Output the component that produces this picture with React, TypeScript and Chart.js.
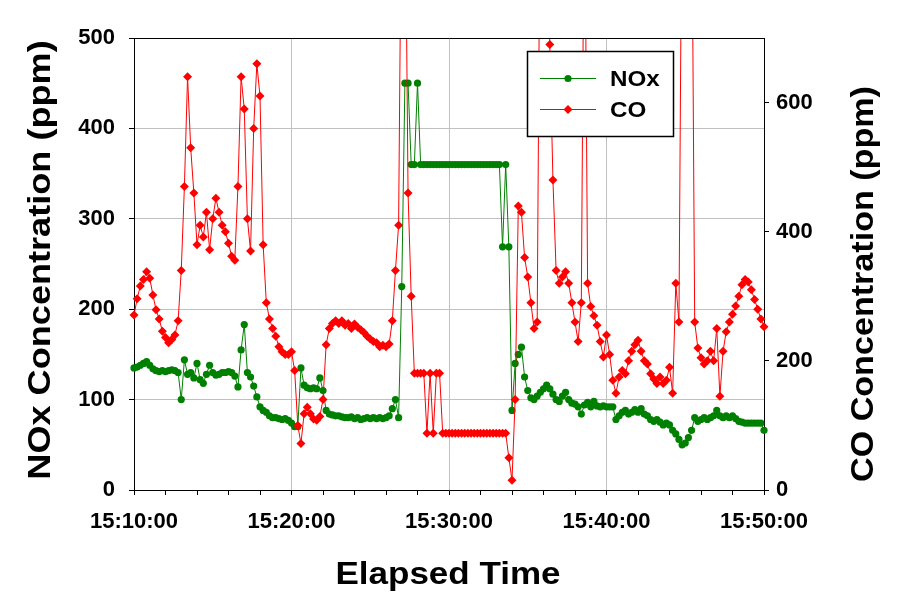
import { useEffect, useRef } from "react";
import { Chart, registerables } from "chart.js";

Chart.register(...registerables);

// ---- data -------------------------------------------------------------
// Elapsed seconds from 15:10:00; one reading every 12 s (5 per minute), 15:10:00 .. 15:50:00
const SAMPLE_STEP_S = 12;
const X_MIN_S = 0;
const X_MAX_S = 2400;
const START_CLOCK_S = 15 * 3600 + 10 * 60;

// NOx (ppm, left axis) - one row per minute
const NOX_PPM = [
  135, 136, 138, 140, 142,
  138, 134, 132, 131, 132,
  131, 132, 133, 132, 130,
  100, 144, 128, 130, 124,
  140, 122, 118, 128, 138,
  130, 127, 128, 130, 130,
  131, 130, 126, 114, 155,
  183, 130, 125, 115, 103,
  92, 88, 86, 82, 80,
  80, 79, 78, 79, 77,
  74, 70, 70, 135, 116,
  113, 112, 113, 112, 124,
  110, 88, 84, 83, 82,
  82, 81, 80, 80, 81,
  79, 80, 78, 79, 80,
  79, 80, 79, 80, 79,
  80, 82, 90, 100, 80,
  225, 450, 450, 360, 360,
  450, 360, 360, 360, 360,
  360, 360, 360, 360, 360,
  360, 360, 360, 360, 360,
  360, 360, 360, 360, 360,
  360, 360, 360, 360, 360,
  360, 360, 269, 360, 269,
  88, 140, 150, 158, 125,
  110, 102, 100, 104, 108,
  112, 116, 112, 106, 100,
  98, 104, 108, 100, 96,
  95, 92, 84, 94, 97,
  92, 98, 93, 92, 93,
  92, 92, 92, 78, 82,
  86, 88, 84, 86, 89,
  86, 90, 84, 82, 78,
  76, 78, 75, 72, 74,
  72, 66, 62, 56, 50,
  52, 58, 66, 80, 76,
  78, 80, 78, 80, 82,
  88, 82, 80, 82, 80,
  82, 79, 76, 75, 74,
  74, 74, 74, 74, 74,
  66,
];

// CO (ppm, right axis) - one row per minute; readings above 700 run off the top of the plot
const CO_PPM = [
  271, 296, 316, 326, 338,
  328, 302, 279, 265, 246,
  236, 228, 233, 240, 262,
  340, 470, 640, 530, 460,
  380, 410, 392, 430, 372,
  420, 452, 430, 410, 400,
  382, 362, 356, 470, 640,
  590, 420, 370, 560, 660,
  610, 380, 290, 265, 250,
  238, 222, 214, 210, 210,
  214, 185, 100, 72, 118,
  128, 118, 110, 108, 114,
  140, 225, 250, 258, 262,
  258, 262, 255, 258, 250,
  257, 252, 248, 244, 238,
  234, 230, 228, 222, 224,
  222, 226, 262, 340, 410,
  1000, 1000, 460, 300, 181,
  181, 181, 181, 88, 181,
  88, 181, 181, 88, 88,
  88, 88, 88, 88, 88,
  88, 88, 88, 88, 88,
  88, 88, 88, 88, 88,
  88, 88, 88, 88, 50,
  15, 140, 440, 430, 360,
  330, 290, 250, 260, 1000,
  1000, 1000, 690, 480, 340,
  320, 330, 338, 320, 290,
  260, 230, 290, 1000, 320,
  284, 270, 255, 230, 206,
  240, 210, 170, 150, 175,
  185, 180, 200, 215, 225,
  232, 215, 200, 195, 180,
  172, 165, 175, 165, 170,
  190, 150, 320, 260, 1000,
  1000, 1000, 1000, 260, 220,
  205, 195, 200, 215, 200,
  250, 145, 215, 245, 260,
  272, 285, 300, 318, 326,
  322, 310, 295, 280, 265,
  253,
];

const NOX_AXIS = { min: 0, max: 500, step: 100 };
const CO_AXIS = { min: 0, max: 700, step: 200 };
const CO_TICKS = [0, 200, 400, 600];
const X_MINOR_STEP_S = 120;
const X_MAJOR_STEP_S = 600;

const SERIES_NAMES = ["NOx", "CO"];
const AXIS_TITLES = {
  x: "Elapsed Time",
  left: "NOx Concentration (ppm)",
  right: "CO Concentration (ppm)",
};

// ---- style ------------------------------------------------------------
const FONT = '"Liberation Sans", Arial, sans-serif';
const GREEN = "#008000";
const RED = "#FF0000";
const GRID = "#C0C0C0";
const NONE = "rgba(0,0,0,0)";

const pad2 = (n: number) => String(n).padStart(2, "0");
const clock = (s: number) => {
  const t = START_CLOCK_S + s;
  return `${Math.floor(t / 3600)}:${pad2(Math.floor((t % 3600) / 60))}:${pad2(t % 60)}`;
};

function stretchedText(
  ctx: CanvasRenderingContext2D,
  text: string,
  x: number,
  y: number,
  rot: number,
  sx: number,
  size: number,
  align: CanvasTextAlign,
  baseline: CanvasTextBaseline
) {
  ctx.save();
  ctx.translate(x, y);
  ctx.rotate(rot);
  ctx.scale(sx, 1);
  ctx.font = `bold ${size}px ${FONT}`;
  ctx.fillStyle = "#000";
  ctx.textAlign = align;
  ctx.textBaseline = baseline;
  ctx.fillText(text, 0, 0);
  ctx.restore();
}

const decorPlugin = {
  id: "decor",
  afterDatasetsDraw(chart: any) {
    const { ctx, chartArea: a } = chart;
    ctx.save();
    // top frame line of the plot area
    ctx.strokeStyle = "#000";
    ctx.lineWidth = 1;
    ctx.beginPath();
    ctx.moveTo(a.left, Math.round(a.top) + 0.5);
    ctx.lineTo(a.right + 1, Math.round(a.top) + 0.5);
    ctx.stroke();

    // legend box
    const lx = 527.5, ly = 51.5, lw = 146, lh = 85;
    ctx.fillStyle = "#fff";
    ctx.fillRect(lx, ly, lw, lh);
    ctx.strokeStyle = "#000";
    ctx.lineWidth = 1.5;
    ctx.strokeRect(lx, ly, lw, lh);

    const rows = [
      { name: SERIES_NAMES[0], color: GREEN, y: 78.5, shape: "circle" },
      { name: SERIES_NAMES[1], color: RED, y: 109.5, shape: "diamond" },
    ];
    for (const r of rows) {
      ctx.strokeStyle = r.color;
      ctx.lineWidth = 1;
      ctx.beginPath();
      ctx.moveTo(540, r.y);
      ctx.lineTo(596, r.y);
      ctx.stroke();
      ctx.fillStyle = r.color;
      ctx.beginPath();
      if (r.shape === "circle") {
        ctx.arc(568, r.y, 3.6, 0, Math.PI * 2);
      } else {
        ctx.moveTo(568, r.y - 4.5);
        ctx.lineTo(572.5, r.y);
        ctx.lineTo(568, r.y + 4.5);
        ctx.lineTo(563.5, r.y);
        ctx.closePath();
      }
      ctx.fill();
      stretchedText(ctx, r.name, 610, r.y + 1, 0, 1.1, 22, "left", "middle");
    }
    ctx.restore();

    // axis titles
    stretchedText(ctx, AXIS_TITLES.left, 50, 260, -Math.PI / 2, 1.165, 31, "center", "alphabetic");
    stretchedText(ctx, AXIS_TITLES.right, 873, 284, -Math.PI / 2, 1.1, 31, "center", "alphabetic");
    stretchedText(ctx, AXIS_TITLES.x, 448, 584, 0, 1.13, 31, "center", "alphabetic");
  },
};

export default function App() {
  const ref = useRef<HTMLCanvasElement>(null);

  useEffect(() => {
    const canvas = ref.current;
    if (!canvas) return;
    const tickFont = { family: FONT, size: 22, weight: "bold" as const };

    const chart = new Chart(canvas, {
      type: "line",
      data: {
        datasets: [
          {
            label: SERIES_NAMES[0],
            data: NOX_PPM.map((y, i) => ({ x: i * SAMPLE_STEP_S, y })),
            yAxisID: "yNox",
            borderColor: GREEN,
            backgroundColor: GREEN,
            borderWidth: 1,
            pointStyle: "circle",
            pointRadius: 3.6,
            pointBorderWidth: 0,
            pointBackgroundColor: GREEN,
            tension: 0,
            order: 2,
            clip: { left: 6, right: 6, top: 0, bottom: 6 },
          },
          {
            label: SERIES_NAMES[1],
            data: CO_PPM.map((y, i) => ({ x: i * SAMPLE_STEP_S, y })),
            yAxisID: "yCo",
            borderColor: RED,
            backgroundColor: RED,
            borderWidth: 1,
            pointStyle: "rectRot",
            pointRadius: 4.5,
            pointBorderWidth: 0,
            pointBackgroundColor: RED,
            tension: 0,
            order: 1,
            clip: { left: 6, right: 6, top: 0, bottom: 6 },
          },
        ],
      },
      options: {
        animation: false,
        responsive: false,
        maintainAspectRatio: false,
        events: [],
        layout: { padding: { top: 38, left: 0, right: 0, bottom: 0 } },
        plugins: {
          legend: { display: false },
          tooltip: { enabled: false },
          title: { display: false },
        },
        scales: {
          x: {
            type: "linear",
            position: "bottom",
            min: X_MIN_S,
            max: X_MAX_S,
            afterFit: (s: any) => {
              s.height = 118;
            },
            ticks: {
              stepSize: X_MINOR_STEP_S,
              autoSkip: false,
              maxRotation: 0,
              minRotation: 0,
              padding: 14,
              color: "#000",
              font: tickFont,
              callback: (v: any) => (Number(v) % X_MAJOR_STEP_S === 0 ? clock(Number(v)) : ""),
            },
            grid: {
              color: (c: any) => {
                const v = c.tick?.value;
                return v % X_MAJOR_STEP_S === 0 && v > X_MIN_S && v < X_MAX_S ? GRID : NONE;
              },
              tickColor: "#000",
              tickLength: 5,
              lineWidth: 1,
            },
            border: { color: "#000", width: 1 },
          },
          yNox: {
            type: "linear",
            position: "left",
            min: NOX_AXIS.min,
            max: NOX_AXIS.max,
            afterFit: (s: any) => {
              s.width = 134;
            },
            ticks: { stepSize: NOX_AXIS.step, padding: 14, color: "#000", font: tickFont },
            grid: {
              color: (c: any) => {
                const v = c.tick?.value;
                return v > NOX_AXIS.min && v < NOX_AXIS.max ? GRID : NONE;
              },
              tickColor: "#000",
              tickLength: 5,
              lineWidth: 1,
            },
            border: { color: "#000", width: 1 },
          },
          yCo: {
            type: "linear",
            position: "right",
            min: CO_AXIS.min,
            max: CO_AXIS.max,
            afterFit: (s: any) => {
              s.width = 140;
            },
            afterBuildTicks: (s: any) => {
              s.ticks = s.ticks.filter((t: any) => CO_TICKS.includes(t.value));
            },
            ticks: { stepSize: CO_AXIS.step, padding: 7, color: "#000", font: tickFont },
            grid: { drawOnChartArea: false, tickColor: "#000", tickLength: 5, lineWidth: 1 },
            border: { color: "#000", width: 1 },
          },
        },
      },
      plugins: [decorPlugin],
    });

    return () => chart.destroy();
  }, []);

  return (
    <div style={{ position: "fixed", left: 0, top: 0, width: 904, height: 608, background: "#fff" }}>
      <canvas ref={ref} width={904} height={608} style={{ display: "block" }} />
    </div>
  );
}
